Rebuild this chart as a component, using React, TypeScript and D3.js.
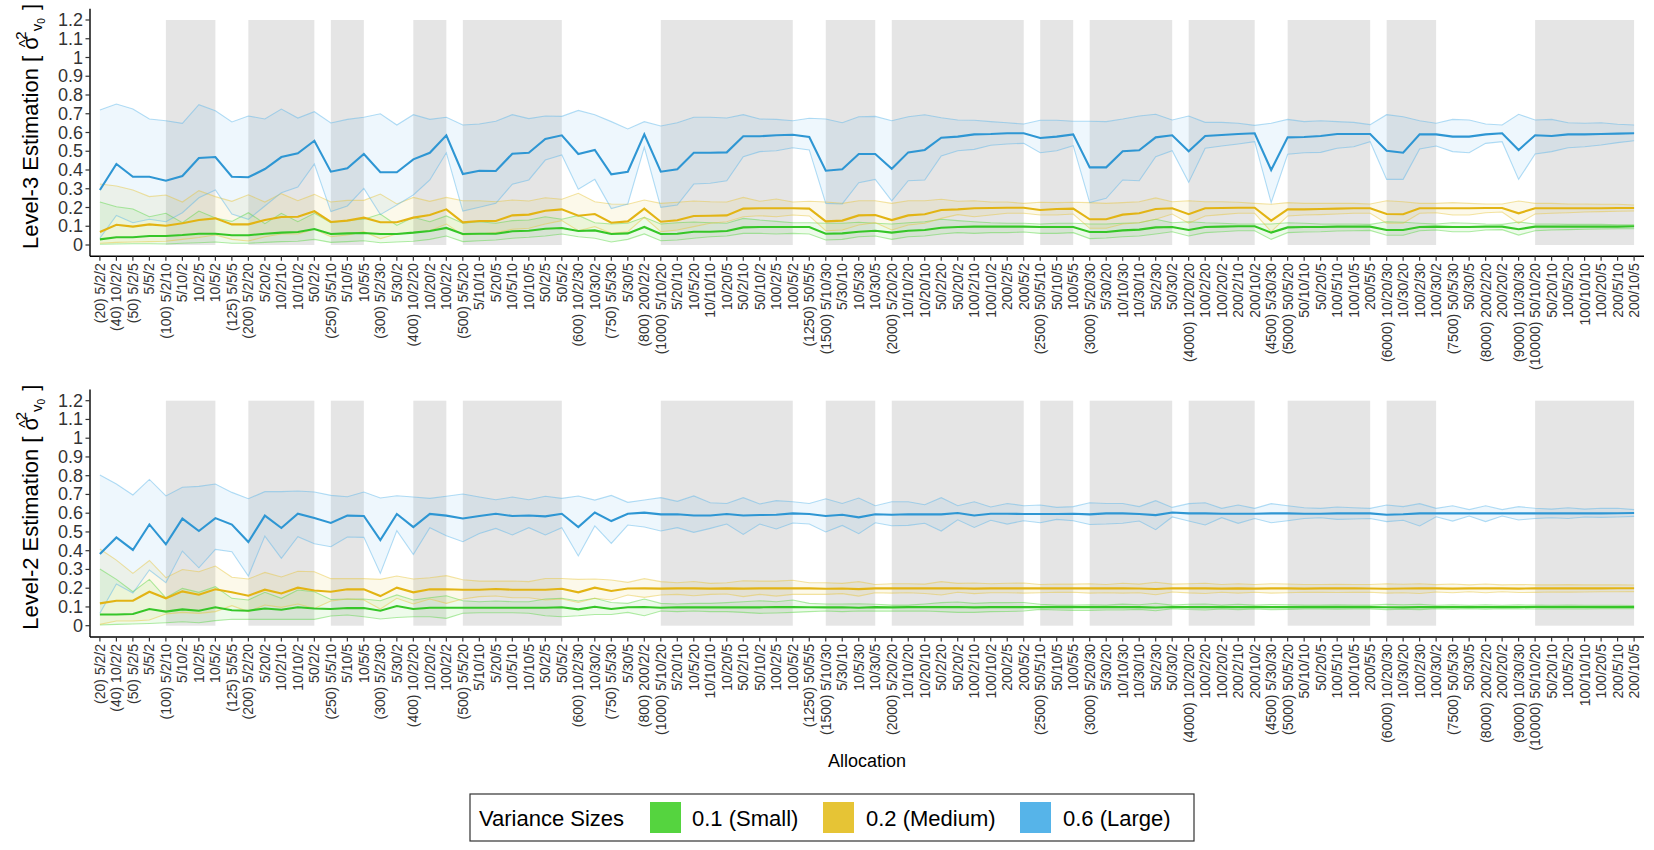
import * as d3 from "d3";

// allocation settings, in plot order; the first one of each total gets "(total)"
const allocations = [
  "5/2/2", "10/2/2", "5/2/5", "5/5/2", "5/2/10", "5/10/2", "10/2/5", "10/5/2", "5/5/5",
  "5/2/20", "5/20/2", "10/2/10", "10/10/2", "50/2/2", "5/5/10", "5/10/5", "10/5/5",
  "5/2/30", "5/30/2", "10/2/20", "10/20/2", "100/2/2", "5/5/20", "5/10/10", "5/20/5",
  "10/5/10", "10/10/5", "50/2/5", "50/5/2", "10/2/30", "10/30/2", "5/5/30", "5/30/5",
  "200/2/2", "5/10/20", "5/20/10", "10/5/20", "10/10/10", "10/20/5", "50/2/10", "50/10/2",
  "100/2/5", "100/5/2", "50/5/5", "5/10/30", "5/30/10", "10/5/30", "10/30/5", "5/20/20",
  "10/10/20", "10/20/10", "50/2/20", "50/20/2", "100/2/10", "100/10/2", "200/2/5", "200/5/2",
  "50/5/10", "50/10/5", "100/5/5", "5/20/30", "5/30/20", "10/10/30", "10/30/10", "50/2/30",
  "50/30/2", "10/20/20", "100/2/20", "100/20/2", "200/2/10", "200/10/2", "5/30/30", "50/5/20",
  "50/10/10", "50/20/5", "100/5/10", "100/10/5", "200/5/5", "10/20/30", "10/30/20", "100/2/30",
  "100/30/2", "50/5/30", "50/30/5", "200/2/20", "200/20/2", "10/30/30", "50/10/20", "50/20/10",
  "100/5/20", "100/10/10", "100/20/5", "200/5/10", "200/10/5",
];

// totals whose allocations sit on a grey band
const shadedTotals = [100, 200, 250, 400, 500, 1000, 1500, 2000, 2500, 3000, 4000, 5000, 6000, 10000];

const yTicks = [0, 0.1, 0.2, 0.3, 0.4, 0.5, 0.6, 0.7, 0.8, 0.9, 1, 1.1, 1.2];

const seriesNames = ["0.1 (Small)", "0.2 (Medium)", "0.6 (Large)"];

// ---- Level-3 estimates ----
const l3BlueMean = [
  0.293, 0.432, 0.364, 0.364, 0.343, 0.368, 0.464, 0.469, 0.364, 0.361, 0.405, 0.469, 0.489, 0.556, 0.391, 0.409, 0.485, 0.388, 0.388, 0.457, 0.492, 0.585, 0.379, 0.396, 0.395, 0.487, 0.492, 0.565, 0.585, 0.485, 0.507,
  0.377, 0.391, 0.590, 0.391, 0.404, 0.492, 0.492, 0.494, 0.580, 0.580, 0.585, 0.588, 0.576, 0.396, 0.404, 0.485, 0.485, 0.407, 0.494, 0.507, 0.572, 0.578, 0.590, 0.592, 0.596, 0.596, 0.571, 0.578, 0.590, 0.414, 0.414,
  0.500, 0.505, 0.574, 0.585, 0.500, 0.581, 0.587, 0.592, 0.596, 0.400, 0.574, 0.576, 0.581, 0.592, 0.592, 0.592, 0.503, 0.492, 0.590, 0.590, 0.578, 0.578, 0.590, 0.596, 0.507, 0.585, 0.581, 0.590, 0.590, 0.592, 0.594, 0.596,
];
const l3BlueUpper = [
  0.720, 0.752, 0.725, 0.672, 0.663, 0.649, 0.748, 0.716, 0.656, 0.688, 0.672, 0.725, 0.677, 0.711, 0.651, 0.670, 0.681, 0.700, 0.640, 0.695, 0.670, 0.681, 0.640, 0.645, 0.660, 0.695, 0.674, 0.688, 0.686, 0.718, 0.695,
  0.658, 0.619, 0.658, 0.635, 0.652, 0.681, 0.681, 0.677, 0.695, 0.672, 0.670, 0.663, 0.676, 0.672, 0.652, 0.684, 0.686, 0.663, 0.684, 0.695, 0.679, 0.667, 0.665, 0.658, 0.652, 0.645, 0.665, 0.665, 0.660, 0.660, 0.658,
  0.672, 0.688, 0.697, 0.667, 0.688, 0.654, 0.654, 0.649, 0.638, 0.649, 0.670, 0.658, 0.663, 0.658, 0.654, 0.642, 0.695, 0.684, 0.663, 0.649, 0.670, 0.667, 0.645, 0.640, 0.697, 0.667, 0.670, 0.652, 0.649, 0.652, 0.644, 0.640,
];
const l3BlueLower = [
  0.036, 0.158, 0.119, 0.137, 0.124, 0.172, 0.252, 0.293, 0.165, 0.137, 0.208, 0.279, 0.309, 0.432, 0.178, 0.208, 0.302, 0.162, 0.213, 0.267, 0.347, 0.492, 0.181, 0.201, 0.222, 0.324, 0.347, 0.453, 0.480, 0.297, 0.350,
  0.194, 0.219, 0.521, 0.201, 0.213, 0.325, 0.329, 0.343, 0.471, 0.498, 0.503, 0.519, 0.507, 0.222, 0.219, 0.332, 0.350, 0.236, 0.343, 0.347, 0.475, 0.503, 0.510, 0.532, 0.539, 0.542, 0.492, 0.503, 0.530, 0.226, 0.249,
  0.347, 0.343, 0.471, 0.503, 0.334, 0.516, 0.528, 0.539, 0.551, 0.226, 0.484, 0.492, 0.494, 0.516, 0.524, 0.551, 0.350, 0.350, 0.512, 0.528, 0.498, 0.492, 0.542, 0.551, 0.350, 0.485, 0.498, 0.519, 0.524, 0.533, 0.546, 0.556,
];
const l3YellowMean = [
  0.069, 0.108, 0.098, 0.110, 0.103, 0.116, 0.133, 0.142, 0.110, 0.110, 0.133, 0.149, 0.151, 0.180, 0.123, 0.130, 0.146, 0.121, 0.121, 0.146, 0.160, 0.190, 0.121, 0.128, 0.128, 0.158, 0.162, 0.183, 0.190, 0.156, 0.165,
  0.119, 0.126, 0.194, 0.124, 0.132, 0.155, 0.156, 0.158, 0.194, 0.196, 0.196, 0.196, 0.194, 0.126, 0.130, 0.158, 0.160, 0.133, 0.158, 0.164, 0.187, 0.190, 0.196, 0.197, 0.199, 0.199, 0.187, 0.192, 0.194, 0.137, 0.137,
  0.162, 0.169, 0.192, 0.196, 0.164, 0.196, 0.197, 0.199, 0.199, 0.130, 0.190, 0.190, 0.192, 0.194, 0.196, 0.196, 0.165, 0.164, 0.196, 0.196, 0.196, 0.196, 0.197, 0.197, 0.169, 0.196, 0.196, 0.196, 0.196, 0.196, 0.197, 0.197,
];
const l3YellowUpper = [
  0.325, 0.315, 0.293, 0.258, 0.267, 0.229, 0.290, 0.258, 0.233, 0.268, 0.229, 0.274, 0.236, 0.270, 0.229, 0.238, 0.238, 0.272, 0.219, 0.254, 0.233, 0.254, 0.236, 0.236, 0.231, 0.240, 0.235, 0.252, 0.244, 0.276, 0.231,
  0.219, 0.217, 0.240, 0.222, 0.228, 0.235, 0.231, 0.229, 0.254, 0.233, 0.245, 0.229, 0.233, 0.229, 0.222, 0.236, 0.236, 0.222, 0.236, 0.236, 0.244, 0.233, 0.236, 0.229, 0.229, 0.222, 0.228, 0.226, 0.228, 0.226, 0.222,
  0.226, 0.231, 0.251, 0.231, 0.236, 0.231, 0.231, 0.228, 0.222, 0.217, 0.226, 0.222, 0.222, 0.222, 0.222, 0.219, 0.236, 0.231, 0.222, 0.222, 0.226, 0.222, 0.219, 0.219, 0.235, 0.222, 0.222, 0.219, 0.219, 0.217, 0.217, 0.213,
];
const l3YellowLower = [
  0.009, 0.014, 0.016, 0.018, 0.020, 0.030, 0.040, 0.053, 0.030, 0.021, 0.044, 0.059, 0.059, 0.084, 0.044, 0.053, 0.071, 0.034, 0.059, 0.066, 0.076, 0.112, 0.053, 0.059, 0.066, 0.084, 0.089, 0.112, 0.130, 0.076, 0.098,
  0.062, 0.071, 0.148, 0.071, 0.080, 0.098, 0.116, 0.124, 0.151, 0.156, 0.151, 0.160, 0.155, 0.076, 0.080, 0.107, 0.119, 0.080, 0.107, 0.116, 0.142, 0.162, 0.151, 0.160, 0.169, 0.169, 0.160, 0.160, 0.165, 0.089, 0.089,
  0.112, 0.119, 0.137, 0.165, 0.116, 0.155, 0.162, 0.169, 0.169, 0.071, 0.155, 0.160, 0.162, 0.165, 0.169, 0.169, 0.116, 0.116, 0.169, 0.172, 0.160, 0.160, 0.172, 0.176, 0.116, 0.165, 0.169, 0.172, 0.176, 0.178, 0.180, 0.181,
];
const l3GreenMean = [
  0.030, 0.041, 0.041, 0.048, 0.048, 0.053, 0.060, 0.060, 0.052, 0.052, 0.060, 0.066, 0.069, 0.085, 0.059, 0.062, 0.064, 0.059, 0.059, 0.066, 0.075, 0.091, 0.059, 0.060, 0.060, 0.073, 0.076, 0.087, 0.091, 0.075, 0.078,
  0.059, 0.062, 0.096, 0.059, 0.060, 0.071, 0.071, 0.075, 0.094, 0.096, 0.096, 0.096, 0.096, 0.060, 0.062, 0.071, 0.076, 0.066, 0.076, 0.080, 0.092, 0.096, 0.098, 0.098, 0.098, 0.098, 0.096, 0.096, 0.096, 0.069, 0.069,
  0.078, 0.082, 0.094, 0.096, 0.080, 0.096, 0.098, 0.100, 0.100, 0.066, 0.094, 0.096, 0.096, 0.098, 0.098, 0.098, 0.080, 0.080, 0.096, 0.098, 0.096, 0.096, 0.098, 0.098, 0.084, 0.098, 0.098, 0.098, 0.098, 0.098, 0.098, 0.100,
];
const l3GreenUpper = [
  0.229, 0.204, 0.192, 0.151, 0.169, 0.119, 0.181, 0.144, 0.126, 0.172, 0.114, 0.169, 0.124, 0.169, 0.119, 0.132, 0.137, 0.165, 0.105, 0.148, 0.124, 0.155, 0.116, 0.124, 0.116, 0.130, 0.133, 0.151, 0.137, 0.158, 0.119,
  0.112, 0.116, 0.148, 0.112, 0.119, 0.123, 0.119, 0.116, 0.142, 0.133, 0.126, 0.119, 0.119, 0.116, 0.116, 0.121, 0.116, 0.112, 0.119, 0.124, 0.137, 0.130, 0.124, 0.119, 0.116, 0.116, 0.112, 0.116, 0.116, 0.112, 0.112,
  0.116, 0.119, 0.137, 0.119, 0.124, 0.119, 0.116, 0.112, 0.112, 0.112, 0.119, 0.116, 0.112, 0.112, 0.112, 0.110, 0.124, 0.121, 0.116, 0.112, 0.119, 0.116, 0.112, 0.110, 0.123, 0.112, 0.112, 0.110, 0.110, 0.110, 0.108, 0.108,
];
const l3GreenLower = [
  0.004, 0.005, 0.007, 0.007, 0.005, 0.009, 0.012, 0.016, 0.009, 0.009, 0.014, 0.018, 0.020, 0.030, 0.014, 0.018, 0.023, 0.012, 0.016, 0.020, 0.030, 0.048, 0.018, 0.023, 0.027, 0.036, 0.041, 0.048, 0.059, 0.044, 0.036,
  0.016, 0.030, 0.059, 0.023, 0.027, 0.036, 0.044, 0.048, 0.062, 0.062, 0.059, 0.062, 0.059, 0.027, 0.030, 0.044, 0.048, 0.030, 0.044, 0.048, 0.059, 0.066, 0.062, 0.066, 0.066, 0.069, 0.062, 0.062, 0.066, 0.034, 0.037,
  0.044, 0.048, 0.059, 0.071, 0.048, 0.066, 0.071, 0.076, 0.076, 0.030, 0.066, 0.069, 0.071, 0.075, 0.076, 0.078, 0.052, 0.052, 0.076, 0.080, 0.071, 0.071, 0.080, 0.082, 0.053, 0.076, 0.080, 0.082, 0.084, 0.085, 0.087, 0.087,
];

// ---- Level-2 estimates ----
const l2BlueMean = [
  0.382, 0.471, 0.404, 0.540, 0.434, 0.571, 0.505, 0.574, 0.539, 0.446, 0.587, 0.521, 0.597, 0.574, 0.548, 0.587, 0.585, 0.457, 0.596, 0.526, 0.596, 0.587, 0.572, 0.585, 0.597, 0.585, 0.588, 0.583, 0.597, 0.526, 0.604,
  0.558, 0.597, 0.603, 0.594, 0.594, 0.588, 0.588, 0.596, 0.588, 0.590, 0.592, 0.599, 0.596, 0.585, 0.592, 0.578, 0.594, 0.592, 0.594, 0.594, 0.594, 0.601, 0.588, 0.597, 0.597, 0.596, 0.596, 0.596, 0.597, 0.594, 0.599,
  0.599, 0.596, 0.590, 0.604, 0.599, 0.599, 0.597, 0.597, 0.597, 0.599, 0.599, 0.597, 0.597, 0.599, 0.599, 0.599, 0.592, 0.594, 0.599, 0.599, 0.599, 0.599, 0.599, 0.599, 0.599, 0.599, 0.599, 0.599, 0.599, 0.599, 0.600, 0.601,
];
const l2BlueUpper = [
  0.804, 0.756, 0.697, 0.780, 0.692, 0.738, 0.743, 0.756, 0.711, 0.677, 0.715, 0.715, 0.718, 0.713, 0.695, 0.688, 0.713, 0.681, 0.693, 0.686, 0.679, 0.690, 0.702, 0.686, 0.672, 0.686, 0.672, 0.690, 0.679, 0.692, 0.670,
  0.695, 0.658, 0.670, 0.683, 0.663, 0.692, 0.656, 0.652, 0.683, 0.649, 0.667, 0.661, 0.652, 0.677, 0.652, 0.681, 0.640, 0.661, 0.661, 0.645, 0.683, 0.640, 0.661, 0.633, 0.652, 0.640, 0.644, 0.631, 0.635, 0.656, 0.652,
  0.652, 0.635, 0.667, 0.631, 0.651, 0.656, 0.626, 0.644, 0.626, 0.651, 0.640, 0.629, 0.626, 0.633, 0.629, 0.626, 0.644, 0.635, 0.651, 0.626, 0.640, 0.619, 0.640, 0.619, 0.635, 0.626, 0.622, 0.629, 0.622, 0.626, 0.626, 0.619,
];
const l2BlueLower = [
  0.066, 0.222, 0.174, 0.297, 0.229, 0.398, 0.309, 0.407, 0.395, 0.265, 0.478, 0.359, 0.475, 0.437, 0.421, 0.473, 0.471, 0.279, 0.507, 0.380, 0.523, 0.480, 0.448, 0.492, 0.519, 0.484, 0.523, 0.484, 0.523, 0.372, 0.532,
  0.439, 0.537, 0.526, 0.505, 0.523, 0.498, 0.519, 0.542, 0.487, 0.542, 0.516, 0.548, 0.542, 0.500, 0.535, 0.491, 0.549, 0.533, 0.535, 0.546, 0.505, 0.565, 0.524, 0.562, 0.542, 0.560, 0.549, 0.567, 0.560, 0.540, 0.542,
  0.546, 0.558, 0.512, 0.580, 0.558, 0.537, 0.576, 0.546, 0.572, 0.549, 0.560, 0.572, 0.576, 0.567, 0.569, 0.572, 0.555, 0.562, 0.532, 0.581, 0.558, 0.585, 0.555, 0.585, 0.564, 0.572, 0.576, 0.572, 0.580, 0.578, 0.580, 0.583,
];
const l2YellowMean = [
  0.119, 0.133, 0.133, 0.181, 0.146, 0.183, 0.165, 0.194, 0.178, 0.160, 0.192, 0.172, 0.203, 0.188, 0.181, 0.194, 0.194, 0.158, 0.203, 0.178, 0.194, 0.194, 0.192, 0.192, 0.196, 0.192, 0.192, 0.192, 0.197, 0.178, 0.203,
  0.185, 0.198, 0.199, 0.198, 0.199, 0.199, 0.198, 0.199, 0.198, 0.199, 0.199, 0.200, 0.199, 0.197, 0.198, 0.195, 0.199, 0.199, 0.199, 0.199, 0.199, 0.200, 0.198, 0.199, 0.199, 0.199, 0.199, 0.199, 0.200, 0.199, 0.199,
  0.199, 0.198, 0.196, 0.200, 0.199, 0.199, 0.198, 0.199, 0.198, 0.199, 0.199, 0.198, 0.199, 0.199, 0.199, 0.198, 0.197, 0.198, 0.199, 0.199, 0.198, 0.199, 0.199, 0.199, 0.198, 0.199, 0.199, 0.199, 0.199, 0.199, 0.200, 0.200,
];
const l2YellowUpper = [
  0.409, 0.350, 0.279, 0.348, 0.256, 0.300, 0.288, 0.318, 0.258, 0.249, 0.284, 0.260, 0.290, 0.288, 0.251, 0.251, 0.251, 0.247, 0.265, 0.249, 0.256, 0.267, 0.245, 0.238, 0.238, 0.238, 0.235, 0.252, 0.252, 0.247, 0.249,
  0.244, 0.231, 0.251, 0.235, 0.229, 0.236, 0.226, 0.229, 0.240, 0.238, 0.238, 0.242, 0.229, 0.229, 0.226, 0.235, 0.220, 0.224, 0.224, 0.222, 0.235, 0.226, 0.228, 0.224, 0.226, 0.228, 0.220, 0.222, 0.222, 0.224, 0.220,
  0.226, 0.222, 0.232, 0.222, 0.224, 0.226, 0.220, 0.224, 0.220, 0.224, 0.222, 0.220, 0.220, 0.221, 0.220, 0.220, 0.224, 0.221, 0.224, 0.219, 0.222, 0.218, 0.222, 0.218, 0.220, 0.218, 0.218, 0.219, 0.218, 0.218, 0.218, 0.217,
];
const l2YellowLower = [
  0.007, 0.025, 0.025, 0.030, 0.062, 0.071, 0.066, 0.075, 0.107, 0.075, 0.110, 0.098, 0.116, 0.092, 0.132, 0.142, 0.137, 0.089, 0.146, 0.116, 0.142, 0.119, 0.142, 0.155, 0.158, 0.149, 0.149, 0.137, 0.142, 0.124, 0.146,
  0.137, 0.164, 0.151, 0.164, 0.167, 0.160, 0.167, 0.169, 0.155, 0.167, 0.158, 0.167, 0.167, 0.167, 0.171, 0.158, 0.176, 0.174, 0.176, 0.172, 0.164, 0.178, 0.171, 0.176, 0.176, 0.174, 0.176, 0.178, 0.178, 0.174, 0.176,
  0.174, 0.176, 0.165, 0.180, 0.175, 0.172, 0.178, 0.174, 0.178, 0.174, 0.176, 0.178, 0.178, 0.177, 0.178, 0.178, 0.174, 0.176, 0.172, 0.180, 0.176, 0.181, 0.176, 0.181, 0.177, 0.178, 0.180, 0.179, 0.180, 0.181, 0.181, 0.182,
];
const l2GreenMean = [
  0.060, 0.060, 0.062, 0.089, 0.075, 0.087, 0.080, 0.098, 0.082, 0.080, 0.092, 0.085, 0.098, 0.092, 0.089, 0.094, 0.094, 0.080, 0.105, 0.089, 0.096, 0.096, 0.096, 0.096, 0.096, 0.096, 0.096, 0.096, 0.098, 0.087, 0.101,
  0.089, 0.098, 0.100, 0.096, 0.098, 0.098, 0.098, 0.098, 0.098, 0.098, 0.099, 0.099, 0.098, 0.098, 0.098, 0.096, 0.099, 0.098, 0.099, 0.099, 0.099, 0.100, 0.098, 0.099, 0.099, 0.099, 0.099, 0.099, 0.100, 0.099, 0.099,
  0.099, 0.099, 0.097, 0.100, 0.099, 0.099, 0.099, 0.100, 0.099, 0.099, 0.099, 0.099, 0.100, 0.099, 0.100, 0.099, 0.098, 0.098, 0.099, 0.100, 0.099, 0.100, 0.099, 0.100, 0.099, 0.100, 0.100, 0.100, 0.100, 0.100, 0.100, 0.100,
];
const l2GreenUpper = [
  0.302, 0.247, 0.181, 0.247, 0.149, 0.199, 0.178, 0.208, 0.146, 0.137, 0.178, 0.146, 0.190, 0.181, 0.140, 0.142, 0.142, 0.133, 0.164, 0.137, 0.149, 0.160, 0.133, 0.128, 0.132, 0.128, 0.128, 0.142, 0.146, 0.132, 0.146,
  0.124, 0.119, 0.142, 0.119, 0.116, 0.119, 0.119, 0.123, 0.128, 0.133, 0.128, 0.137, 0.119, 0.116, 0.116, 0.117, 0.114, 0.110, 0.110, 0.116, 0.123, 0.126, 0.119, 0.123, 0.123, 0.124, 0.114, 0.110, 0.110, 0.112, 0.110,
  0.115, 0.112, 0.120, 0.110, 0.114, 0.116, 0.110, 0.114, 0.110, 0.113, 0.112, 0.110, 0.110, 0.111, 0.110, 0.110, 0.114, 0.112, 0.114, 0.109, 0.112, 0.109, 0.112, 0.109, 0.111, 0.110, 0.109, 0.110, 0.109, 0.109, 0.109, 0.108,
];
const l2GreenLower = [
  0.004, 0.007, 0.009, 0.012, 0.016, 0.021, 0.016, 0.027, 0.034, 0.034, 0.034, 0.034, 0.034, 0.034, 0.052, 0.057, 0.048, 0.036, 0.044, 0.048, 0.048, 0.039, 0.066, 0.069, 0.069, 0.069, 0.066, 0.053, 0.048, 0.053, 0.060,
  0.060, 0.071, 0.053, 0.078, 0.075, 0.078, 0.075, 0.075, 0.071, 0.066, 0.068, 0.071, 0.075, 0.078, 0.075, 0.078, 0.078, 0.078, 0.078, 0.078, 0.075, 0.071, 0.071, 0.075, 0.076, 0.078, 0.087, 0.084, 0.082, 0.082, 0.084,
  0.084, 0.087, 0.080, 0.090, 0.086, 0.084, 0.089, 0.086, 0.089, 0.086, 0.087, 0.089, 0.089, 0.088, 0.089, 0.089, 0.086, 0.088, 0.086, 0.090, 0.088, 0.090, 0.088, 0.090, 0.089, 0.089, 0.090, 0.090, 0.090, 0.091, 0.091, 0.091,
];

const keyColors = ["#55d43f", "#e6c435", "#56b4e9"];
const lineColors = ["#36c628", "#e2b414", "#2e96d3"];

const FONT = "'Liberation Sans', Arial, Helvetica, sans-serif";
const W = 1654;
const H = 850;
const plotLeft = 90;
const plotRight = 1644;
const panelH = 247.5;

interface Band {
  mean: number[];
  upper: number[];
  lower: number[];
}

const totalOf = (a: string) => a.split("/").map(Number).reduce((p, v) => p * v, 1);

const x = d3.scalePoint<string>().domain(allocations).range([plotLeft, plotRight]).padding(0.6);
const px = (i: number) => x(allocations[i]) ?? 0;

const groups = d3.groups(allocations, totalOf);
const firstOfGroup = new Set(groups.map((g) => g[1][0]));

function Panel({ top, level, bands }: { top: number; level: number; bands: Band[] }) {
  const y = d3.scaleLinear().domain([-0.06, 1.26]).range([top + panelH, top]);
  const bottom = top + panelH;

  const area = (b: Band) =>
    d3
      .area<number>()
      .x((_, i) => px(i))
      .y0((_, i) => y(b.lower[i]))
      .y1((d) => y(d))(b.upper) ?? "";
  const line = (vals: number[]) =>
    d3
      .line<number>()
      .x((_, i) => px(i))
      .y((d) => y(d))(vals) ?? "";

  const midY = top + panelH / 2 - 6;

  return (
    <g>
      {/* grey bands behind the groups */}
      {groups
        .filter((g) => shadedTotals.includes(g[0]))
        .map((g) => {
          const x0 = x(g[1][0]) ?? 0;
          const x1 = x(g[1][g[1].length - 1]) ?? 0;
          return (
            <rect key={g[0]} x={x0} y={y(1.2)} width={x1 - x0} height={y(0) - y(1.2)} fill="#e5e5e5" />
          );
        })}

      {bands.map((b, k) => (
        <path key={"a" + k} d={area(b)} fill={keyColors[k]} fillOpacity={0.1} />
      ))}
      {bands.map((b, k) => (
        <g key={"b" + k} stroke={keyColors[k]} strokeOpacity={0.45} strokeWidth={1.1} fill="none">
          <path d={line(b.upper)} />
          <path d={line(b.lower)} />
        </g>
      ))}
      {bands.map((b, k) => (
        <path key={"m" + k} d={line(b.mean)} fill="none" stroke={lineColors[k]} strokeWidth={2.1} />
      ))}

      {/* axes */}
      <line x1={plotLeft} x2={plotLeft} y1={top} y2={bottom} stroke="#000" strokeWidth={1.4} />
      <line x1={plotLeft} x2={plotRight} y1={bottom} y2={bottom} stroke="#000" strokeWidth={1.4} />
      {yTicks.map((t) => (
        <g key={t}>
          <line x1={plotLeft - 4.5} x2={plotLeft} y1={y(t)} y2={y(t)} stroke="#333" strokeWidth={1.2} />
          <text x={plotLeft - 7} y={y(t)} textAnchor="end" dominantBaseline="central" fontSize={18} fill="#333">
            {d3.format("~g")(t)}
          </text>
        </g>
      ))}
      {allocations.map((a) => {
        const xi = x(a) ?? 0;
        const label = firstOfGroup.has(a) ? `(${totalOf(a)}) ${a}` : a;
        return (
          <g key={a}>
            <line x1={xi} x2={xi} y1={bottom} y2={bottom + 4.5} stroke="#333" strokeWidth={1.2} />
            <text
              transform={`translate(${xi},${bottom + 7}) rotate(-90)`}
              textAnchor="end"
              dominantBaseline="central"
              fontSize={14}
              fill="#333"
            >
              {label}
            </text>
          </g>
        );
      })}

      {/* y title: hat(sigma)^2 [v0] */}
      <text transform={`translate(38,${midY}) rotate(-90)`} textAnchor="middle" fontSize={22} fill="#000">
        {`Level-${level} Estimation [ `}
        <tspan>{"\u03C3"}</tspan>
        <tspan dx={-11} dy={-7} fontSize={16}>^</tspan>
        <tspan dx={0} dy={-5} fontSize={15}>2</tspan>
        <tspan dy={16} fontSize={15}>v</tspan>
        <tspan dy={3} fontSize={10}>0</tspan>
        <tspan dx={2} dy={-7}>{" ]"}</tspan>
      </text>
    </g>
  );
}

export default function App() {
  const l3: Band[] = [
    { mean: l3GreenMean, upper: l3GreenUpper, lower: l3GreenLower },
    { mean: l3YellowMean, upper: l3YellowUpper, lower: l3YellowLower },
    { mean: l3BlueMean, upper: l3BlueUpper, lower: l3BlueLower },
  ];
  const l2: Band[] = [
    { mean: l2GreenMean, upper: l2GreenUpper, lower: l2GreenLower },
    { mean: l2YellowMean, upper: l2YellowUpper, lower: l2YellowLower },
    { mean: l2BlueMean, upper: l2BlueUpper, lower: l2BlueLower },
  ];

  const keyX = [650, 823, 1020];
  const labelX = [692, 866, 1063];

  return (
    <svg
      width={W}
      height={H}
      style={{ position: "absolute", left: 0, top: 0, background: "#fff" }}
      fontFamily={FONT}
    >
      <rect width={W} height={H} fill="#fff" />
      <Panel top={8.75} level={3} bands={l3} />
      <Panel top={389.45} level={2} bands={l2} />

      <text x={(plotLeft + plotRight) / 2} y={767} textAnchor="middle" fontSize={18} fill="#000">
        Allocation
      </text>

      {/* legend */}
      <rect x={470} y={794} width={724} height={47} fill="#fff" stroke="#333" strokeWidth={1.2} />
      <text x={479} y={826} fontSize={22} fill="#000">
        Variance Sizes
      </text>
      {seriesNames.map((s, k) => (
        <g key={s}>
          <rect x={keyX[k]} y={802} width={31} height={31} fill={keyColors[k]} />
          <text x={labelX[k]} y={826} fontSize={22} fill="#000">
            {s}
          </text>
        </g>
      ))}
    </svg>
  );
}
